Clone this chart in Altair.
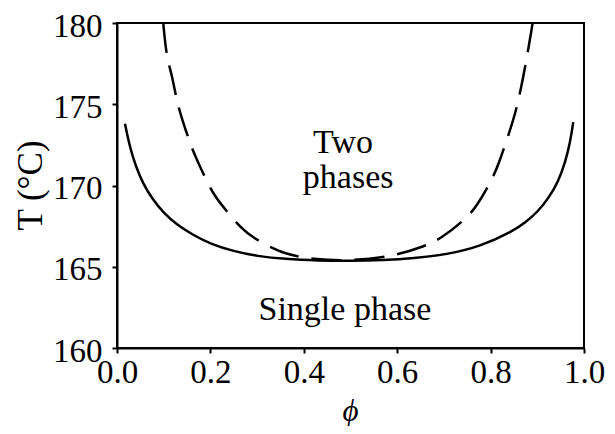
import altair as alt
import pandas as pd

# Binodal (solid) curve
phi_binodal = [0.017, 0.028, 0.04, 0.056, 0.075, 0.10, 0.128, 0.16, 0.20, 0.25, 0.30, 0.36,
               0.43, 0.50, 0.57, 0.635, 0.706, 0.777, 0.849, 0.875, 0.90, 0.925, 0.945,
               0.96, 0.97, 0.977]
T_binodal = [173.8, 172.3, 171.2, 170.1, 169.2, 168.3, 167.6, 167.0, 166.4, 165.95, 165.65,
             165.47, 165.38, 165.35, 165.40, 165.52, 165.75, 166.23, 167.2, 167.75, 168.35,
             169.25, 170.25, 171.45, 172.6, 173.9]

# Spinodal (dashed) curve
phi_spinodal = [0.099, 0.106, 0.117, 0.128, 0.139, 0.160, 0.174, 0.203, 0.224, 0.267, 0.296,
                0.353, 0.42, 0.50, 0.595, 0.660, 0.692, 0.745, 0.770, 0.802, 0.817, 0.838,
                0.856, 0.877, 0.890]
T_spinodal = [180.0, 177.9, 176.9, 175.2, 174.1, 172.3, 171.4, 169.6, 168.8, 167.3, 166.7,
              165.8, 165.45, 165.35, 165.66, 166.28, 166.7, 167.9, 168.7, 170.3, 171.3, 173.1,
              174.65, 177.7, 180.0]

# Region labels
label_text = ["Two", "phases", "Single phase"]
label_phi = [0.484, 0.495, 0.488]
label_T = [172.0, 169.85, 161.72]

x_ticks = [0.0, 0.2, 0.4, 0.6, 0.8, 1.0]
y_ticks = [160, 165, 170, 175, 180]

FONT = "Liberation Serif"

bin_df = pd.DataFrame({"phi": phi_binodal, "T": T_binodal})
spin_df = pd.DataFrame({"phi": phi_spinodal, "T": T_spinodal})
lab_df = pd.DataFrame({"phi": label_phi, "T": label_T, "text": label_text})

xscale = alt.Scale(domain=[0, 1], nice=False, zero=False)
yscale = alt.Scale(domain=[160, 180], nice=False, zero=False)

xaxis = alt.Axis(values=x_ticks, format=".1f", grid=False, tickSize=5, tickWidth=2,
                 domainWidth=2, domainColor="black", tickColor="black", labelFlush=False,
                 labelFont=FONT, labelFontSize=33, labelColor="black", labelPadding=3,
                 title="ϕ", titleFont=FONT, titleFontStyle="italic", titleFontWeight="normal",
                 titleFontSize=31, titleColor="black", titleX=233, titleY=63,
                 titleBaseline="middle", titleAlign="center")
yaxis = alt.Axis(values=y_ticks, grid=False, tickSize=5, tickWidth=2,
                 domainWidth=2, domainColor="black", tickColor="black", labelFlush=False,
                 labelFont=FONT, labelFontSize=33, labelColor="black", labelPadding=10,
                 labelOffset=3,
                 title="T (°C)", titleFont=FONT, titleFontWeight="normal",
                 titleFontSize=35, titleColor="black", titleX=-87, titleY=162,
                 titleAngle=270, titleBaseline="middle", titleAlign="center")

solid = alt.Chart(bin_df).mark_line(color="black", strokeWidth=2.5, interpolate="basis",
                                     clip=True).encode(
    x=alt.X("phi:Q", scale=xscale, axis=xaxis),
    y=alt.Y("T:Q", scale=yscale, axis=yaxis),
)

dashed = alt.Chart(spin_df).mark_line(color="black", strokeWidth=2.5, interpolate="basis",
                                      strokeDash=[30, 13], strokeCap="butt", clip=True).encode(
    x=alt.X("phi:Q", scale=xscale),
    y=alt.Y("T:Q", scale=yscale),
)

labels = alt.Chart(lab_df).mark_text(font=FONT, fontSize=34, color="black", align="center",
                                     baseline="alphabetic").encode(
    x=alt.X("phi:Q", scale=xscale),
    y=alt.Y("T:Q", scale=yscale),
    text="text:N",
)

chart = alt.layer(solid, dashed, labels).properties(
    width=467, height=325,
    autosize=alt.AutoSizeParams(type="none"),
    padding={"left": 109, "top": 15, "right": 23, "bottom": 78},
).configure_view(stroke="black", strokeWidth=2)

chart.save("out.html", embed_options={"renderer": "svg", "actions": False})
